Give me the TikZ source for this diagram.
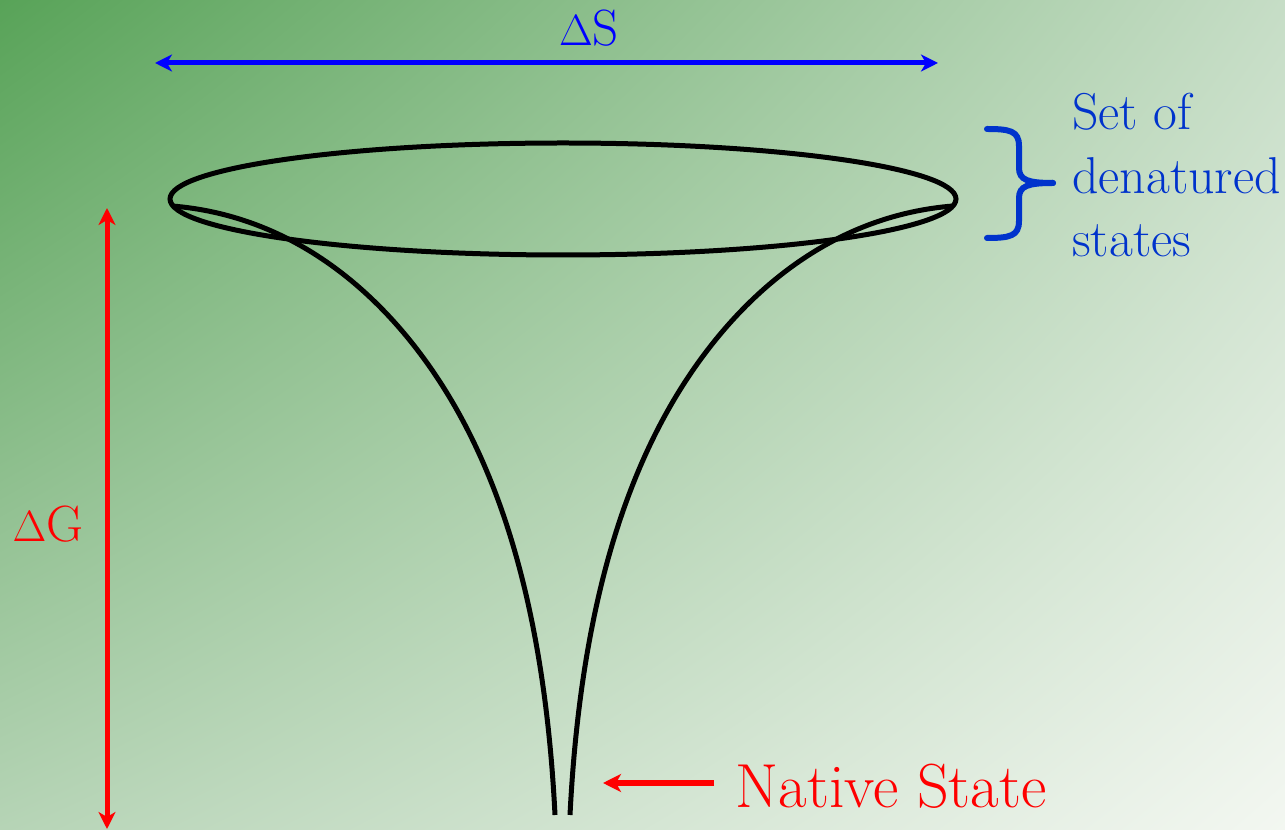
\documentclass[tikz,border=0pt]{standalone}
\usetikzlibrary{arrows.meta,shadings}
\definecolor{bgUL}{RGB}{88,163,88}
\definecolor{bgUR}{RGB}{198,221,198}
\definecolor{bgLL}{RGB}{182,212,182}
\definecolor{bgLR}{RGB}{243,247,241}
\definecolor{labelblue}{RGB}{0,51,204}
\tikzset{
  funnel/.style={line width=0.1cm, black},
  dimarrow/.style={line width=0.1cm, {Stealth[length=0.34cm,width=0.34cm,inset=0.1cm]}-{Stealth[length=0.34cm,width=0.34cm,inset=0.1cm]}},
  ptrarrow/.style={line width=0.13cm, -{Stealth[length=0.36cm,width=0.36cm,inset=0.1cm]}},
  bracestyle/.style={line width=0.12cm, labelblue, line cap=round},
  biglabel/.style={font=\rmfamily\fontsize{29}{36}\selectfont, inner sep=0pt},
}
\begin{document}
\begin{tikzpicture}[x=0.02cm,y=-0.02cm]
\useasboundingbox (0,0) rectangle (1285,830);
\shade[upper left=bgUL, upper right=bgUR, lower left=bgLL, lower right=bgLR] (0,0) rectangle (1285,830);

% rim of the funnel
\draw[funnel] (563,199) ellipse [x radius=393, y radius=56];
% funnel walls
\coordinate (lt) at (172,206);
\coordinate (lm) at (432,370);
\coordinate (lb) at (555,815);
\coordinate (rt) at (953,206);
\coordinate (rm) at (693,370);
\coordinate (rb) at (570,815);
\draw[funnel] (lt) .. controls (285,215) and (372,283) .. (lm)
                   .. controls (502,471.5) and (545,615) .. (lb);
\draw[funnel] (rt) .. controls (840,215) and (753,283) .. (rm)
                   .. controls (623,471.5) and (580,615) .. (rb);

% Delta S
\coordinate (sl) at (155,63);
\coordinate (sr) at (938,63);
\draw[dimarrow, blue] (sl) -- (sr);
\node[biglabel, text=blue, anchor=base] (dS) at (589,46) {$\Delta$S};

% Delta G
\coordinate (gt) at (107,208);
\coordinate (gb) at (107,829);
\draw[dimarrow, red] (gt) -- (gb);
\node[biglabel, text=red, anchor=base] (dG) at (48,542) {$\Delta$G};

% brace
\coordinate (bt) at (987,129);
\coordinate (bb) at (987,238);
\coordinate (bm) at (1053,183);
\draw[bracestyle] (bt) .. controls (1010,129) and (1019,131) .. (1019,146) -- (1019,168) .. controls (1019,180) and (1028,183) .. (bm);
\draw[bracestyle] (bb) .. controls (1010,238) and (1019,236) .. (1019,221) -- (1019,198) .. controls (1019,186) and (1028,183) .. (bm);
\node[font=\rmfamily\fontsize{29.5}{36}\selectfont, text=labelblue, anchor=base west, inner sep=0pt] (den) at (1072,130)
  {\begin{tabular}[t]{@{}l@{}}Set of\\denatured\\states\end{tabular}};

% Native state
\node[font=\rmfamily\fontsize{35.4}{40}\selectfont, text=red, anchor=base west, inner sep=0pt] (nat) at (735,807) {Native State};
\coordinate (ns) at (714,783);
\coordinate (na) at (603,783);
\draw[ptrarrow, red] (ns) -- (na);
\end{tikzpicture}
\end{document}
